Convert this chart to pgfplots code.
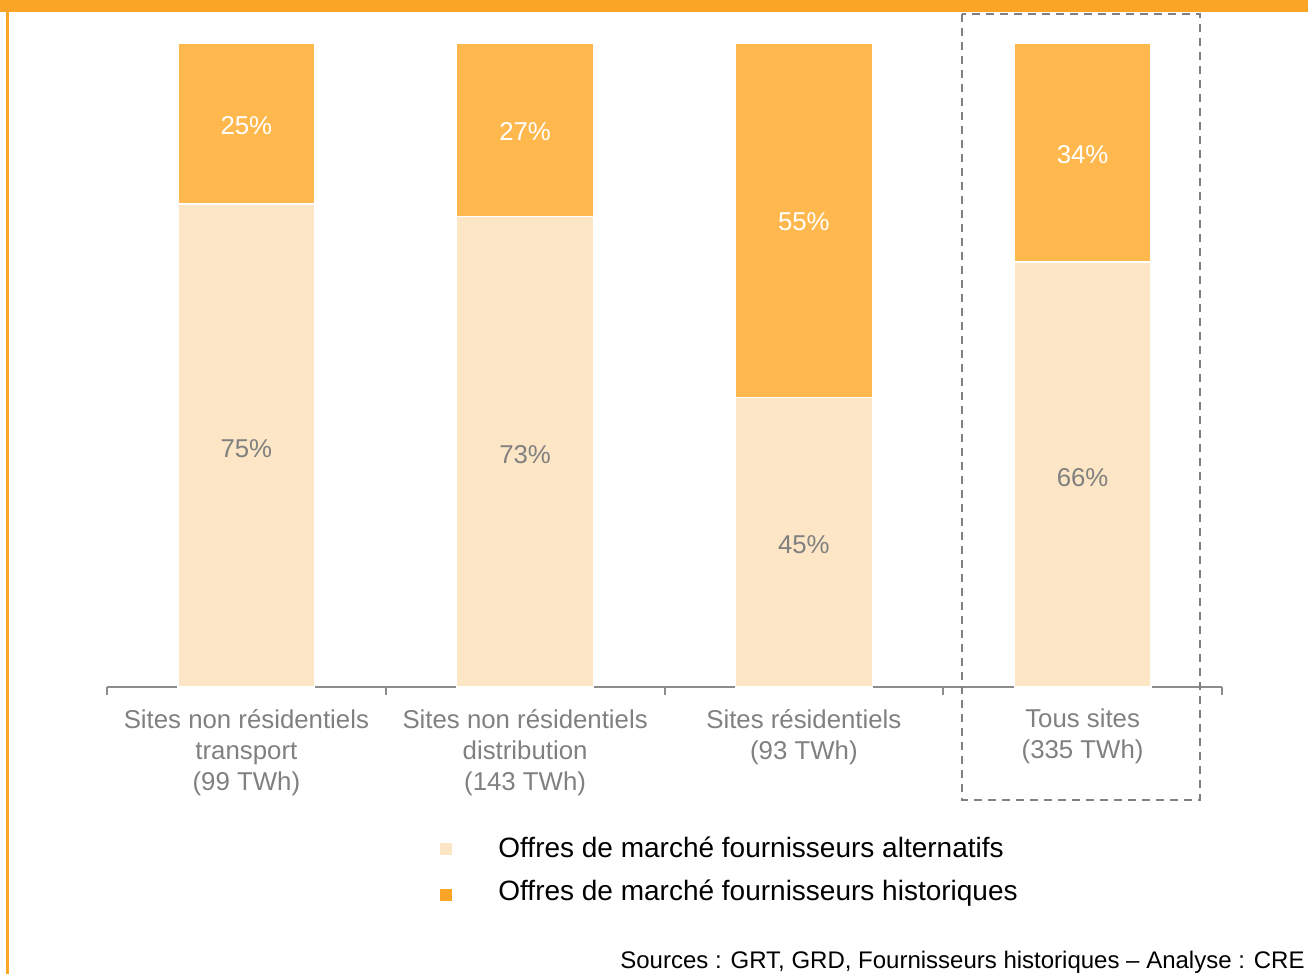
\documentclass[border=0pt]{standalone}
\usepackage{pgfplots}
\pgfplotsset{compat=1.18}
\usepackage{fontspec}
\setmainfont{Liberation Sans}
\definecolor{bandc}{HTML}{FBA526}
\definecolor{lightc}{HTML}{FDE6C5}
\definecolor{orangec}{HTML}{FFB84D}
\definecolor{txtgray}{HTML}{808080}
\definecolor{axgray}{HTML}{8C8C8C}
\begin{document}
\begin{tikzpicture}
\path[use as bounding box] (0pt,0pt) rectangle (654pt,-487pt);
\fill[bandc] (0pt,0pt) rectangle (654pt,-6pt);
\fill[bandc] (3pt,-6pt) rectangle (4.5pt,-487pt);
\begin{axis}[
  at={(53.5pt,-343.5pt)}, anchor=south west,
  scale only axis, width=557.5pt, height=322pt,
  xmin=-0.5, xmax=3.5, ymin=0, ymax=100,
  ybar stacked, bar width=0.49,
  axis x line*=bottom, axis y line=none,
  axis line style={draw=axgray, line width=1pt},
  xtick={0,1,2,3},
  xticklabels={{Sites non résidentiels\\transport\\(99 TWh)},{Sites non résidentiels\\distribution\\(143 TWh)},{Sites résidentiels\\(93 TWh)},{Tous sites\\(335 TWh)}},
  major tick length=0pt,
  minor xtick={-0.5,0.5,1.5,2.5,3.5},
  minor tick length=4pt, tick align=outside,
  minor tick style={draw=axgray, line width=1pt},
  xticklabel style={align=center, text=txtgray, font=\fontsize{12.9}{15.5}\selectfont, yshift=-7.5pt},
  clip=false,
]
\addplot[fill=lightc, draw=white, line width=0.6pt] coordinates {(0,75) (1,73) (2,45) (3,66)};
\addplot[fill=orangec, draw=white, line width=0.6pt] coordinates {(0,25) (1,27) (2,55) (3,34)};
\end{axis}
\begin{axis}[
  at={(53.5pt,-343.5pt)}, anchor=south west,
  scale only axis, width=557.5pt, height=322pt,
  xmin=-0.5, xmax=3.5, ymin=0, ymax=100,
  hide axis, clip=false,
  nodes near coords, point meta=explicit symbolic,
  nodes near coords align=center,
]
\addplot[only marks, mark=none, every node near coord/.append style={text=txtgray, font=\fontsize{12.9}{15}\selectfont, anchor=center, yshift=-1.5pt}]
  table[meta=lab] {
x y lab
0 37.5 75\%
1 36.5 73\%
2 22.5 45\%
3 33 66\%
};
\addplot[only marks, mark=none, every node near coord/.append style={text=white, font=\fontsize{12.9}{15}\selectfont, anchor=center, yshift=-1pt}]
  table[meta=lab] {
x y lab
0 87.5 25\%
1 86.5 27\%
2 72.5 55\%
3 83 34\%
};
\end{axis}
\draw[txtgray, line width=1.2pt, dash pattern=on 4pt off 3pt] (481pt,-7pt) rectangle (600pt,-400pt);
\fill[lightc] (220pt,-421.5pt) rectangle (226pt,-427.5pt);
\fill[bandc] (220pt,-444.5pt) rectangle (226pt,-450.5pt);
\node[anchor=west, inner sep=0pt, font=\fontsize{14}{16}\selectfont] at (249pt,-423.5pt) {Offres de marché fournisseurs alternatifs};
\node[anchor=west, inner sep=0pt, font=\fontsize{14}{16}\selectfont] at (249pt,-446.5pt) {Offres de marché fournisseurs historiques};
\node[anchor=east, inner sep=0pt, font=\fontsize{12}{14}\selectfont] at (652.5pt,-481pt) {Sources : GRT, GRD, Fournisseurs historiques – Analyse : CRE};
\end{tikzpicture}
\end{document}
